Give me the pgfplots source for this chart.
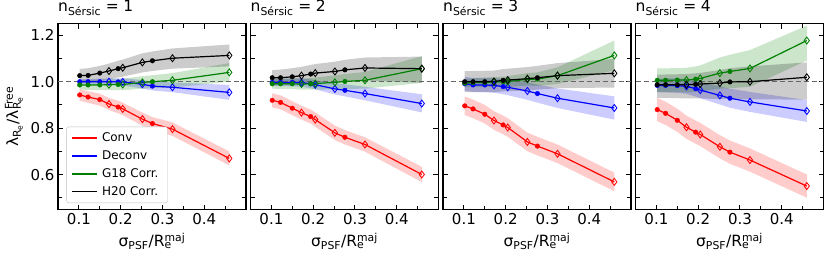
\documentclass[border=0pt]{standalone}
\usepackage{fontspec}
\setmainfont{DejaVu Sans}
\usepackage{pgfplots}
\pgfplotsset{compat=1.18}
\usepackage{pgfplotstable}
\usepgfplotslibrary{fillbetween}

\definecolor{mred}{rgb}{1,0,0}
\definecolor{mblue}{rgb}{0,0,1}
\definecolor{mgreen}{rgb}{0,0.5,0}

\pgfplotstableread{
x r rlo rhi b blo bhi g glo ghi k klo khi
0.102 0.943 0.918 0.968 1.000 0.988 1.012 0.986 0.966 1.006 1.026 0.995 1.055
0.122 0.934 0.909 0.959 1.000 0.988 1.012 0.986 0.965 1.007 1.027 0.996 1.058
0.150 0.923 0.897 0.949 1.000 0.987 1.013 0.986 0.964 1.008 1.037 1.003 1.068
0.172 0.904 0.878 0.930 1.000 0.986 1.014 0.987 0.964 1.010 1.046 1.010 1.078
0.194 0.891 0.864 0.918 0.999 0.984 1.014 0.988 0.964 1.012 1.056 1.018 1.090
0.205 0.883 0.856 0.910 0.999 0.983 1.015 0.988 0.963 1.013 1.060 1.022 1.095
0.252 0.839 0.811 0.867 0.989 0.971 1.007 0.997 0.970 1.024 1.083 1.040 1.122
0.276 0.820 0.792 0.848 0.981 0.962 1.000 1.000 0.972 1.028 1.090 1.046 1.130
0.324 0.796 0.767 0.825 0.976 0.955 0.997 1.006 0.975 1.037 1.101 1.056 1.143
0.460 0.670 0.640 0.700 0.954 0.922 0.986 1.040 1.000 1.080 1.113 1.066 1.160
}\tA
\pgfplotstableread{
x r rlo rhi b blo bhi g glo ghi k klo khi
0.102 0.920 0.890 0.950 0.997 0.982 1.012 0.991 0.970 1.012 1.017 0.985 1.050
0.122 0.911 0.881 0.941 0.997 0.981 1.013 0.991 0.969 1.013 1.017 0.984 1.052
0.150 0.886 0.856 0.916 0.997 0.980 1.014 0.991 0.968 1.014 1.021 0.986 1.058
0.172 0.867 0.837 0.897 0.996 0.978 1.014 0.990 0.966 1.014 1.026 0.989 1.064
0.194 0.850 0.820 0.880 0.991 0.972 1.010 0.991 0.966 1.016 1.033 0.993 1.072
0.205 0.837 0.806 0.868 0.987 0.967 1.007 0.992 0.966 1.018 1.037 0.996 1.076
0.252 0.780 0.749 0.811 0.969 0.945 0.993 0.997 0.967 1.027 1.044 0.998 1.086
0.276 0.761 0.730 0.792 0.963 0.937 0.989 1.001 0.969 1.033 1.051 1.002 1.094
0.324 0.730 0.699 0.761 0.949 0.920 0.978 1.006 0.970 1.042 1.059 1.005 1.104
0.460 0.601 0.568 0.634 0.906 0.868 0.946 1.056 0.995 1.110 1.056 0.995 1.108
}\tB
\pgfplotstableread{
x r rlo rhi b blo bhi g glo ghi k klo khi
0.102 0.896 0.856 0.936 0.991 0.961 1.021 0.994 0.976 1.012 1.000 0.955 1.045
0.122 0.883 0.843 0.923 0.986 0.956 1.016 0.996 0.977 1.015 1.000 0.955 1.046
0.150 0.860 0.820 0.900 0.986 0.955 1.017 0.997 0.977 1.017 1.000 0.955 1.047
0.172 0.833 0.793 0.873 0.984 0.952 1.016 0.999 0.978 1.020 1.001 0.955 1.048
0.194 0.814 0.774 0.854 0.979 0.946 1.012 1.000 0.978 1.022 1.006 0.958 1.054
0.205 0.803 0.763 0.843 0.976 0.942 1.010 1.001 0.978 1.024 1.007 0.959 1.056
0.252 0.741 0.701 0.781 0.960 0.922 0.998 1.010 0.983 1.037 1.013 0.963 1.063
0.276 0.723 0.683 0.763 0.949 0.910 0.988 1.011 0.982 1.040 1.017 0.966 1.068
0.324 0.690 0.650 0.730 0.929 0.887 0.971 1.026 0.990 1.062 1.026 0.972 1.080
0.460 0.569 0.529 0.609 0.887 0.837 0.937 1.113 1.049 1.177 1.036 0.975 1.098
}\tC
\pgfplotstableread{
x r rlo rhi b blo bhi g glo ghi k klo khi
0.102 0.880 0.830 0.930 0.984 0.955 1.013 1.006 0.955 1.057 0.987 0.930 1.030
0.122 0.864 0.814 0.914 0.984 0.954 1.014 1.006 0.955 1.057 0.987 0.930 1.031
0.150 0.834 0.784 0.884 0.983 0.952 1.014 1.007 0.955 1.059 0.987 0.929 1.032
0.172 0.804 0.754 0.854 0.980 0.948 1.012 1.007 0.954 1.060 0.987 0.928 1.033
0.194 0.783 0.733 0.833 0.970 0.936 1.004 1.011 0.956 1.066 0.989 0.928 1.036
0.205 0.773 0.723 0.823 0.964 0.929 0.999 1.014 0.958 1.070 0.990 0.928 1.038
0.252 0.720 0.670 0.770 0.941 0.902 0.980 1.037 0.970 1.104 0.994 0.925 1.050
0.276 0.697 0.647 0.747 0.929 0.888 0.970 1.044 0.972 1.116 0.999 0.926 1.058
0.324 0.663 0.613 0.713 0.913 0.870 0.956 1.057 0.978 1.136 1.000 0.924 1.066
0.460 0.551 0.501 0.601 0.874 0.827 0.921 1.177 1.091 1.241 1.019 0.923 1.083
}\tD

\newcommand\band[4]{% table, col, color, id
  \addplot[draw=none, forget plot, name path=#2L#4] table[x=x,y=#2lo]{#1};
  \addplot[draw=none, forget plot, name path=#2H#4] table[x=x,y=#2hi]{#1};
  \addplot[fill=#3, fill opacity=0.2, draw=none, forget plot] fill between[of=#2L#4 and #2H#4];
}
\newcommand\ser[3]{% table, col, color
  \addplot[color=#3, line width=1.2pt, no marks, forget plot] table[x=x,y=#2]{#1};
  \addplot[color=#3, only marks, mark=*, mark size=2.3pt, mark indices={1,2,3,5,8}, forget plot] table[x=x,y=#2]{#1};
  \addplot[color=#3, only marks, mark=diamond, mark size=3.5pt, mark options={line width=0.85pt}, mark indices={4,6,7,9,10}, forget plot] table[x=x,y=#2]{#1};
}
\newcommand\allbands[2]{%
  \band{#1}{r}{mred}{#2}
  \band{#1}{b}{mblue}{#2}
  \band{#1}{g}{mgreen}{#2}
  \band{#1}{k}{black}{#2}
  \addplot[black!60, line width=0.9pt, dash pattern=on 5pt off 3pt, forget plot] coordinates {(0.05,1) (0.5,1)};
  \ser{#1}{r}{mred}
  \ser{#1}{b}{mblue}
  \ser{#1}{g}{mgreen}
  \ser{#1}{k}{black}
}

\pgfplotsset{panel/.style={
  width=188pt, height=186pt, scale only axis, anchor=south west,
  xmin=0.05, xmax=0.5, ymin=0.45, ymax=1.25,
  xtick={0.1,0.2,0.3,0.4}, minor xtick={0.15,0.25,0.35,0.45},
  ytick={0.6,0.8,1.0,1.2}, minor ytick={0.5,0.7,0.9,1.1},
  tick align=inside, major tick length=5pt, minor tick length=4pt,
  tick style={black, line width=1pt},
  axis line style={line width=1.4pt},
  /pgf/number format/assume math mode=true,
  tick label style={font=\fontsize{15}{16}\selectfont},
  yticklabel style={/pgf/number format/.cd, fixed, fixed zerofill, precision=1},
  xticklabel style={/pgf/number format/.cd, fixed, precision=1},
  label style={font=\fontsize{15.5}{16}\selectfont},
  xlabel={σ\textsubscript{PSF}/R\makebox[0pt][l]{\textsubscript{e}}\textsuperscript{maj}},
  xlabel style={yshift=-2pt},
  title style={at={(0,1)}, anchor=south west, inner sep=0pt, yshift=2pt, font=\fontsize{15.5}{16}\selectfont},
}}

\begin{document}
\begin{tikzpicture}
\path (0,0) rectangle (831pt,260pt);
\begin{axis}[panel, at={(58pt,51pt)},
  title={n\textsubscript{Sérsic}\hspace{0.3em}=\hspace{0.3em}1},
  ylabel={λ\textsubscript{R\textsubscript{e}}/λ\makebox[0pt][l]{\textsubscript{R\textsubscript{e}}}\textsuperscript{Free}},
  ylabel style={yshift=1pt},
  legend style={at={(0.045,0.035)}, anchor=south west, draw=black!25, rounded corners=2pt, fill=white,
    font=\fontsize{12}{13}\selectfont, row sep=3.5pt, inner xsep=5pt, inner ysep=4pt,
    nodes={inner xsep=4pt}},
  legend cell align=left,
  legend image post style={xscale=1.45},
]
\addlegendimage{line legend, color=mred, line width=1.6pt}
\addlegendentry{Conv}
\addlegendimage{line legend, color=mblue, line width=1.6pt}
\addlegendentry{Deconv}
\addlegendimage{line legend, color=mgreen, line width=1.6pt}
\addlegendentry{G18 Corr.}
\addlegendimage{line legend, color=black, line width=1.6pt}
\addlegendentry{H20 Corr.}
\allbands{\tA}{a}
\end{axis}
\begin{axis}[panel, at={(250.5pt,51pt)}, yticklabels={}, title={n\textsubscript{Sérsic}\hspace{0.3em}=\hspace{0.3em}2}]
\allbands{\tB}{b}
\end{axis}
\begin{axis}[panel, at={(443pt,51pt)}, yticklabels={}, title={n\textsubscript{Sérsic}\hspace{0.3em}=\hspace{0.3em}3}]
\allbands{\tC}{c}
\end{axis}
\begin{axis}[panel, at={(635.5pt,51pt)}, yticklabels={}, title={n\textsubscript{Sérsic}\hspace{0.3em}=\hspace{0.3em}4}]
\allbands{\tD}{d}
\end{axis}
\end{tikzpicture}
\end{document}
